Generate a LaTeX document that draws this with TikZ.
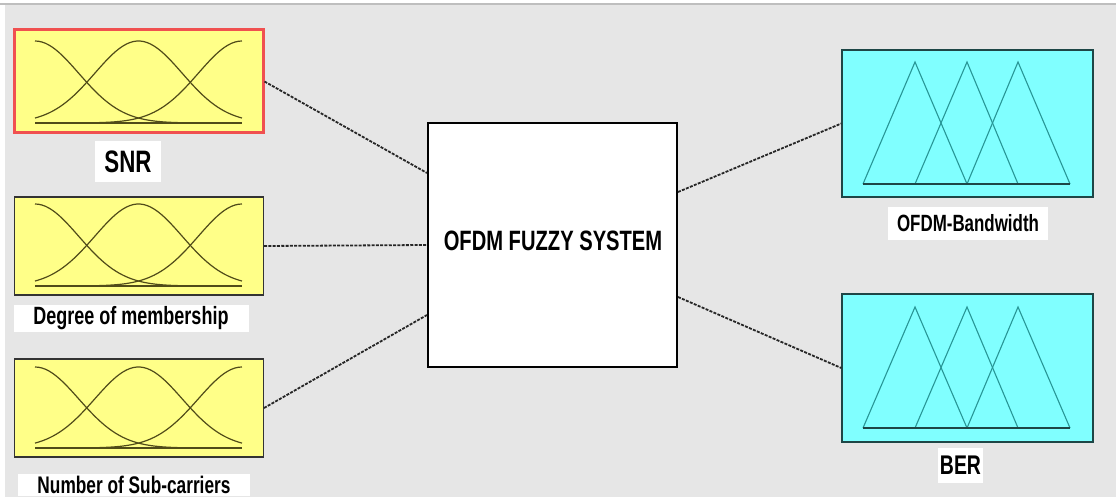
\documentclass[tikz,border=0pt]{standalone}
\usepackage{fontspec}
\usepackage{graphicx}
\setmainfont{Liberation Sans}
\definecolor{bgc}{RGB}{230,230,230}
\definecolor{topline}{RGB}{190,190,190}
\definecolor{yel}{RGB}{255,255,136}
\definecolor{cy}{RGB}{128,255,255}
\definecolor{olive}{RGB}{80,75,25}
\definecolor{teal2}{RGB}{40,150,150}
\definecolor{tealdark}{RGB}{30,70,70}
\definecolor{redb}{RGB}{240,80,80}
\newcommand{\nar}[1]{\scalebox{0.72}[1]{#1}}
\newcommand{\mfgauss}[2]{%
  \draw[mfc] (35,#2) -- (242,#2);
  \draw[mfc] plot[domain=0:4.737,samples=60] ({35+43.7*\x},{#2-(#2-#1)*exp(-\x*\x/2)});
  \draw[mfc] plot[domain=0:4.737,samples=60] ({35+43.7*\x},{#2-(#2-#1)*exp(-(\x-2.3685)*(\x-2.3685)/2)});
  \draw[mfc] plot[domain=0:4.737,samples=60] ({35+43.7*\x},{#2-(#2-#1)*exp(-(\x-4.737)*(\x-4.737)/2)});
}
\newcommand{\mftri}[2]{%
  \draw[tric] (863,#2) -- (915,#1) -- (967,#2);
  \draw[tric] (915,#2) -- (967,#1) -- (1018,#2);
  \draw[tric] (967,#2) -- (1018,#1) -- (1070,#2);
  \draw[tealdark, line width=1.3pt] (863,#2) -- (1070,#2);
}
\tikzset{
  inbox/.style={draw=black!80, line width=1.1pt, fill=yel, minimum width=249pt, minimum height=98pt, inner sep=0pt},
  outbox/.style={draw=tealdark, line width=1.4pt, fill=cy, minimum width=251pt, minimum height=147pt, inner sep=0pt},
  mfc/.style={olive, line width=1.2pt},
  tric/.style={teal2, line width=1.1pt},
  lbl/.style={fill=white, inner sep=0pt, font=\bfseries},
  conn/.style={black!85, line width=1.8pt, dash pattern=on 3pt off 1.3pt},
}
\begin{document}
\begin{tikzpicture}[x=1pt,y=-1pt]
\useasboundingbox (0,0) rectangle (1116,497);
\fill[white] (0,0) rectangle (1116,497);
\fill[bgc] (5,5) rectangle (1116,497);
\draw[topline, line width=1.5pt] (0,4) -- (1116,4);

% input boxes
\node[inbox, draw=redb, line width=3pt, minimum height=103pt] (snr) at (138.5,81.5) {};
\mfgauss{41}{123}
\node[inbox] (deg) at (139,246) {};
\mfgauss{204}{286}
\node[inbox] (num) at (139,408) {};
\mfgauss{367}{448}

% labels
\node[lbl, minimum width=66pt, minimum height=41pt] (snrl) at (128,162) {\fontsize{31}{33}\selectfont\nar{SNR}};
\node[lbl, minimum width=235pt, minimum height=27pt] (degl) at (131,318) {\fontsize{25}{27}\selectfont\nar{Degree of membership}};
\node[lbl, minimum width=232pt, minimum height=22pt] (numl) at (134,484.5) {\fontsize{24}{26}\selectfont\nar{Number of Sub-carriers}};

% center
\node[draw=black, line width=2pt, fill=white, minimum width=249pt, minimum height=244pt, inner sep=0pt] (fuzzy) at (552.5,245) {};
\node[font=\bfseries] (fuzzyl) at (553,241) {\fontsize{28}{30}\selectfont\nar{OFDM FUZZY SYSTEM}};

% outputs
\node[outbox] (bw) at (967.5,123.5) {};
\mftri{62}{184}
\node[outbox, minimum height=148pt] (ber) at (967.5,368) {};
\mftri{307}{428}
\node[lbl, minimum width=160pt, minimum height=33pt] (bwl) at (968,223.5) {\fontsize{23.5}{25}\selectfont\nar{OFDM-Bandwidth}};
\node[lbl, minimum width=45pt, minimum height=35pt] (berl) at (960.5,465.5) {\fontsize{27}{29}\selectfont\nar{BER}};

% connectors
\draw[conn] (snr.east) -- ([yshift=72pt]fuzzy.west);
\draw[conn] (deg.east) -- (fuzzy.west);
\draw[conn] (num.east) -- ([yshift=-70pt]fuzzy.west);
\draw[conn] ([yshift=53pt]fuzzy.east) -- (bw.west);
\draw[conn] ([yshift=-52pt]fuzzy.east) -- (ber.west);
\end{tikzpicture}
\end{document}
